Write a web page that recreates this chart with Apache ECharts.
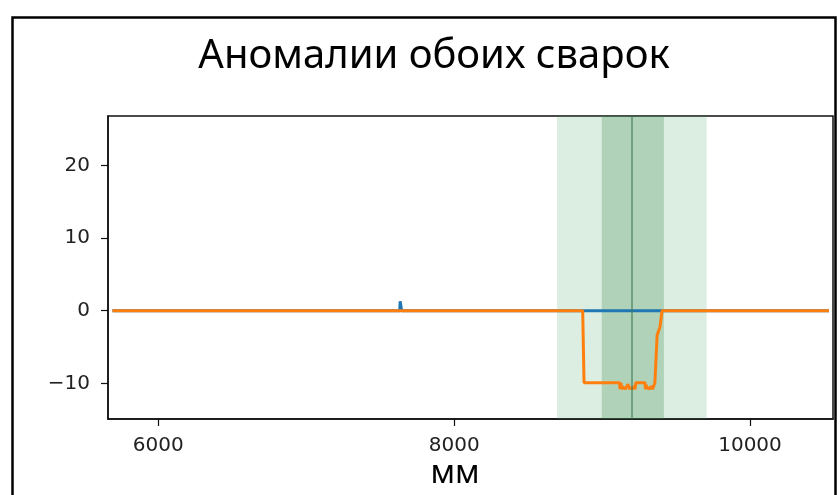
<!DOCTYPE html>
<html>
<head>
<meta charset="utf-8">
<script src="https://cdn.jsdelivr.net/npm/echarts@6/dist/echarts.min.js"></script>
<style>html,body{margin:0;padding:0;background:#fff;}#c{width:840px;height:495px;}</style>
</head>
<body>
<div id="c"></div>
<script>
// ---- data ----
const titleText = 'Аномалии обоих сварок';
const xAxisName = 'мм';
const xTicks = [6000, 8000, 10000];
const yTicks = [-10, 0, 10, 20];
const xRange = [5660, 10561];
const yRange = [-14.9, 26.8];

// series 1 (blue): x positions and values
const blueX = [5690, 7632, 7635, 7642, 7645, 8870, 9400, 10534];
const blueY = [0, 0, 1.3, 1.3, 0, 0, 0, 0];

// series 2 (orange)
const orangeX = [5690, 8869, 8878, 9118, 9121, 9127, 9133, 9139, 9145, 9151, 9157, 9163, 9169, 9175, 9181, 9187, 9193, 9199, 9205, 9211, 9217, 9223, 9228, 9290, 9293, 9299, 9305, 9311, 9317, 9323, 9329, 9335, 9341, 9347, 9353, 9357, 9362, 9372, 9380, 9392, 9405, 10534];
const orangeY = [0, 0, -9.9, -9.9, -10.8, -9.9, -10.8, -10.4, -10.8, -10.5, -10.8, -10.6, -10.8, -10.1, -9.9, -10.8, -10.5, -10.8, -10.6, -10.8, -10.4, -10.8, -9.9, -9.9, -10.8, -10.2, -10.8, -10.5, -10.8, -10.6, -10.8, -10.4, -10.8, -10.6, -10.8, -9.9, -9.9, -3.4, -2.9, -2.2, 0, 0];

// highlighted zones
const outerZone = [8695, 9707];
const innerZone = [8998, 9418];
const centerLine = 9201;

const zip = (xs, ys) => xs.map((x, i) => [x, ys[i]]);
const fmt = v => (v < 0 ? '\u2212' + Math.abs(v) : String(v));

const chart = echarts.init(document.getElementById('c'));
chart.setOption({
  animation: false,
  backgroundColor: '#fff',
  title: {
    text: titleText,
    left: 429, textAlign: 'center', top: 32,
    textStyle: { fontFamily: 'Noto Sans', fontSize: 40, fontWeight: 'normal', color: '#000' }
  },
  graphic: [
    { type: 'rect', shape: { x: 12.5, y: 17.5, width: 823, height: 490 },
      style: { fill: 'none', stroke: '#000', lineWidth: 2.5 }, z: 100 },
    { type: 'text', x: 455, y: 474, style: { text: xAxisName, fontFamily: 'Noto Sans', fontSize: 32,
      fill: '#000', align: 'center', verticalAlign: 'middle' } }
  ],
  grid: { left: 108, top: 116, width: 725, height: 303, show: true, borderColor: '#111', borderWidth: 1.5, backgroundColor: 'transparent' },
  xAxis: {
    type: 'value', min: xRange[0], max: xRange[1],
    axisLine: { show: true, onZero: false, lineStyle: { color: '#111', width: 1.5 } },
    axisTick: { show: true, length: 7, customValues: xTicks, lineStyle: { color: '#111', width: 1.2 } },
    axisLabel: { customValues: xTicks, formatter: fmt, margin: 17, fontFamily: 'DejaVu Sans', fontSize: 20, color: '#222' },
    splitLine: { show: false }
  },
  yAxis: {
    type: 'value', min: yRange[0], max: yRange[1],
    axisLine: { show: true, onZero: false, lineStyle: { color: '#111', width: 1.5 } },
    axisTick: { show: true, length: 7, customValues: yTicks, lineStyle: { color: '#111', width: 1.2 } },
    axisLabel: { customValues: yTicks, formatter: fmt, margin: 18, fontFamily: 'DejaVu Sans', fontSize: 20, color: '#222' },
    splitLine: { show: false }
  },
  series: [
    {
      type: 'line', data: [], z: 1, silent: true,
      markArea: {
        silent: true,
        data: [
          [{ xAxis: outerZone[0], itemStyle: { color: 'rgba(60,160,90,0.18)' } }, { xAxis: outerZone[1] }],
          [{ xAxis: innerZone[0], itemStyle: { color: 'rgba(50,130,70,0.26)' } }, { xAxis: innerZone[1] }]
        ]
      },
      markLine: {
        silent: true, symbol: 'none', label: { show: false },
        lineStyle: { color: 'rgba(60,120,80,0.55)', width: 2, type: 'solid' },
        data: [{ xAxis: centerLine }]
      }
    },
    {
      type: 'line', data: zip(blueX, blueY), z: 3, showSymbol: false,
      lineStyle: { color: '#1f77b4', width: 3 }, itemStyle: { color: '#1f77b4' }
    },
    {
      type: 'line', data: zip(orangeX, orangeY), z: 4, showSymbol: false,
      lineStyle: { color: '#ff7f0e', width: 3 }, itemStyle: { color: '#ff7f0e' }
    }
  ]
});
</script>
</body>
</html>
